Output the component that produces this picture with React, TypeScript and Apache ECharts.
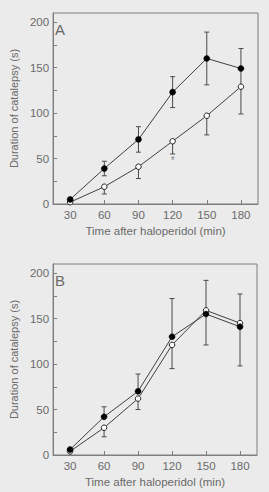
import React, { useEffect, useRef } from "react";
import * as echarts from "echarts";

const times = [30, 60, 90, 120, 150, 180];
const xTickValues = [30, 60, 90, 120, 150, 180];
const yTickValues = [0, 25, 50, 75, 100, 125, 150, 175, 200];
const yLabelValues = [0, 50, 100, 150, 200];

// Panel A
const aFilledMean = [5, 39, 71, 123, 160, 149];
const aFilledErrUp = [0, 8, 14, 17, 29, 22];
const aFilledErrDown = [0, 8, 14, 17, 29, 22];
const aOpenMean = [2, 19, 41, 69, 97, 129];
const aOpenErrDown = [0, 8, 13, 14, 21, 30];
const aAsterisk = [[120, 48]];

// Panel B
const bFilledMean = [6, 42, 70, 130, 155, 141];
const bFilledErrUp = [0, 11, 19, 42, 37, 36];
const bFilledErrDown = [0, 0, 0, 0, 0, 0];
const bOpenMean = [4, 30, 62, 121, 159, 145];
const bOpenErrDown = [0, 10, 12, 26, 38, 47];
const bAsterisk: number[][] = [];

const panelLabels = ["A", "B"];

const BG = "#ebebeb";
const FRAME = "#7d7d7d";
const TEXT = "#6a6a6a";
const LINE = "#404040";
const FONT = "'Liberation Sans', Arial, sans-serif";

function errData(mean: number[], err: number[], dir: number) {
  return times
    .map((t, i) => [t, mean[i], mean[i] + dir * err[i]])
    .filter((d) => d[2] !== d[1]);
}

function errSeries(idx: number, mean: number[], err: number[], dir: number) {
  return {
    type: "custom",
    xAxisIndex: idx,
    yAxisIndex: idx,
    z: 2,
    data: errData(mean, err, dir),
    renderItem: (params: any, api: any) => {
      const p0 = api.coord([api.value(0), api.value(1)]);
      const p1 = api.coord([api.value(0), api.value(2)]);
      const cap = 2.5;
      const style = { stroke: "#4a4a4a", lineWidth: 1 };
      return {
        type: "group",
        children: [
          { type: "line", shape: { x1: p0[0], y1: p0[1], x2: p1[0], y2: p1[1] }, style },
          { type: "line", shape: { x1: p1[0] - cap, y1: p1[1], x2: p1[0] + cap, y2: p1[1] }, style },
        ],
      };
    },
  };
}

function lineSeries(idx: number, mean: number[], filled: boolean) {
  return {
    type: "line",
    xAxisIndex: idx,
    yAxisIndex: idx,
    z: 3,
    data: times.map((t, i) => [t, mean[i]]),
    symbol: "circle",
    symbolSize: filled ? 6 : 5.5,
    showSymbol: true,
    lineStyle: { color: LINE, width: 1 },
    itemStyle: filled
      ? { color: "#000", borderColor: "#000", borderWidth: 0.5 }
      : { color: "#fff", borderColor: "#222", borderWidth: 1 },
  };
}

function asteriskSeries(idx: number, pts: number[][]) {
  return {
    type: "scatter",
    xAxisIndex: idx,
    yAxisIndex: idx,
    z: 4,
    data: pts,
    symbolSize: 1,
    itemStyle: { color: "rgba(0,0,0,0)" },
    label: {
      show: true,
      position: "inside",
      formatter: "*",
      color: TEXT,
      fontSize: 10,
      fontFamily: FONT,
    },
  };
}

function xAxis(idx: number) {
  return {
    type: "value",
    gridIndex: idx,
    min: 15,
    max: 195,
    name: "Time after haloperidol (min)",
    nameLocation: "middle",
    nameGap: 21,
    nameTextStyle: { color: TEXT, fontSize: 11.5, fontFamily: FONT },
    axisLine: { show: true, lineStyle: { color: FRAME, width: 1 } },
    axisTick: { show: true, inside: true, length: 4, customValues: xTickValues, lineStyle: { color: FRAME } },
    axisLabel: { customValues: xTickValues, color: TEXT, fontSize: 11.5, fontFamily: FONT, margin: 5 },
    splitLine: { show: false },
  };
}

function yAxis(idx: number) {
  return {
    type: "value",
    gridIndex: idx,
    min: 0,
    max: 210,
    name: "Duration of catalepsy (s)",
    nameLocation: "middle",
    nameGap: 27,
    nameTextStyle: { color: TEXT, fontSize: 11, fontFamily: FONT },
    axisLine: { show: true, lineStyle: { color: FRAME, width: 1 } },
    axisTick: { show: true, inside: true, length: 4, customValues: yTickValues, lineStyle: { color: FRAME } },
    axisLabel: { customValues: yLabelValues, color: TEXT, fontSize: 11.5, fontFamily: FONT, margin: 4 },
    splitLine: { show: false },
  };
}

export default function App() {
  const ref = useRef<HTMLDivElement>(null);
  useEffect(() => {
    document.body.style.margin = "0";
    document.body.style.background = BG;
    const chart = echarts.init(ref.current!, undefined, { renderer: "svg" });
    chart.setOption({
      animation: false,
      backgroundColor: BG,
      grid: [
        { left: 46, top: 13, width: 212, height: 191, show: true, borderColor: FRAME, borderWidth: 1, backgroundColor: "transparent" },
        { left: 45, top: 264, width: 212, height: 191, show: true, borderColor: FRAME, borderWidth: 1, backgroundColor: "transparent" },
      ],
      xAxis: [xAxis(0), xAxis(1)],
      yAxis: [yAxis(0), yAxis(1)],
      graphic: [
        { type: "text", left: 55, top: 22, style: { text: panelLabels[0], fill: TEXT, font: `15px ${FONT}` } },
        { type: "text", left: 55, top: 273, style: { text: panelLabels[1], fill: TEXT, font: `15px ${FONT}` } },
      ],
      series: [
        errSeries(0, aFilledMean, aFilledErrUp, 1),
        errSeries(0, aFilledMean, aFilledErrDown, -1),
        errSeries(0, aOpenMean, aOpenErrDown, -1),
        lineSeries(0, aOpenMean, false),
        lineSeries(0, aFilledMean, true),
        asteriskSeries(0, aAsterisk),
        errSeries(1, bFilledMean, bFilledErrUp, 1),
        errSeries(1, bFilledMean, bFilledErrDown, -1),
        errSeries(1, bOpenMean, bOpenErrDown, -1),
        lineSeries(1, bOpenMean, false),
        lineSeries(1, bFilledMean, true),
        asteriskSeries(1, bAsterisk),
      ],
    });
    return () => chart.dispose();
  }, []);
  return <div ref={ref} style={{ width: 269, height: 492, background: BG }} />;
}
